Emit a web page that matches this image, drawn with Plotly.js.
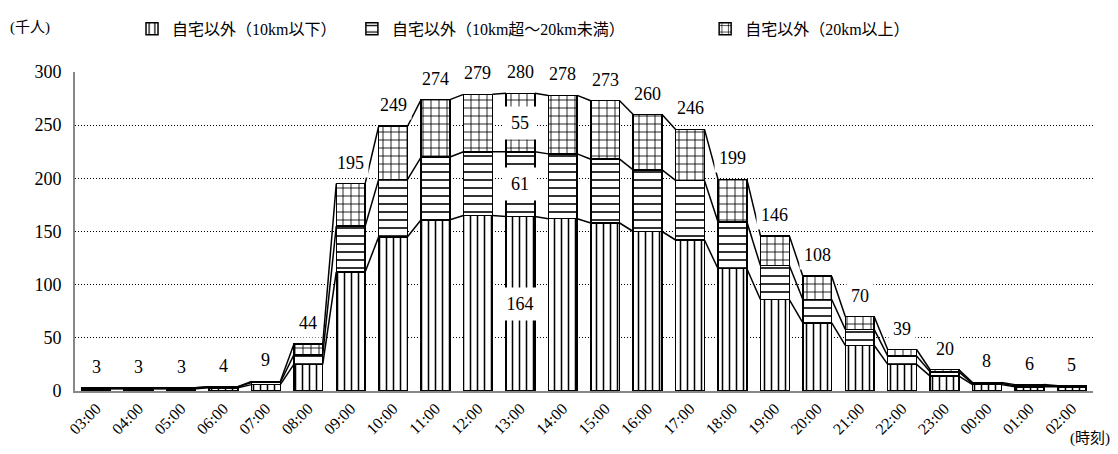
<!DOCTYPE html>
<html>
<head>
<meta charset="utf-8">
<script src="https://cdn.plot.ly/plotly-3.0.1.min.js"></script>
<style>html,body{margin:0;padding:0;background:#fff;}#chart{width:1118px;height:454px;}</style>
</head>
<body>
<div id="chart"></div>
<script>
// ---- data ----
var hours = ["03:00","04:00","05:00","06:00","07:00","08:00","09:00","10:00","11:00","12:00","13:00","14:00",
             "15:00","16:00","17:00","18:00","19:00","20:00","21:00","22:00","23:00","00:00","01:00","02:00"];
var seriesNames = ["自宅以外（10km以下）","自宅以外（10km超～20km未満）","自宅以外（20km以上）"];
var near   = [2,2,2,3,6,25,112,145,161,165,164,162,158,150,142,115,86,64,43,25,14,6,4,4];
var middle = [1,1,1,1,2,9,43,54,59,60,61,61,60,58,56,44,32,22,15,8,4,1,1,1];
var far    = [0,0,0,0,1,10,40,50,54,54,55,55,55,52,48,40,28,22,12,6,2,1,1,0];
var totals = [3,3,3,4,9,44,195,249,274,279,280,278,273,260,246,199,146,108,70,39,20,8,6,5];
var detailHour = "13:00"; // hour whose segments carry value labels

// ---- build ----
var SERIF = "'Liberation Serif', 'Times New Roman', 'Noto Sans CJK JP', serif";
var idx = hours.map(function(_, i){ return i; });
var W = 0.68;
var patterns = [
  {shape:"|", size:7, solidity:0.22},
  {shape:"-", size:8, solidity:0.2},
  {shape:"+", size:8, solidity:0.2}
];
var legendIds = ["legend", "legend2", "legend3"];
var legendX = [0.056, 0.272, 0.619];
var seriesVals = [near, middle, far];
var traces = [];
seriesVals.forEach(function(vals, k){
  traces.push({
    type:"bar", x: idx, y: vals, name: seriesNames[k], width: W, legend: legendIds[k],
    marker:{color:"#ffffff", line:{color:"#000", width:1.5},
      pattern:{shape:patterns[k].shape, size:patterns[k].size, solidity:patterns[k].solidity,
               fgcolor:"#000", bgcolor:"#fff", fillmode:"replace"}},
    hoverinfo:"skip"
  });
});
// cumulative levels and connecting series lines
var cum = [];
var run = hours.map(function(){ return 0; });
seriesVals.forEach(function(vals){
  run = run.map(function(r, i){ return r + vals[i]; });
  cum.push(run.slice());
});
cum.forEach(function(level){
  var xs = [], ys = [];
  for (var i = 0; i < hours.length - 1; i++) {
    xs.push(i + W/2, i + 1 - W/2, null);
    ys.push(level[i], level[i+1], null);
  }
  traces.push({type:"scatter", mode:"lines", x:xs, y:ys, line:{color:"#000", width:1.5},
               showlegend:false, hoverinfo:"skip", cliponaxis:false});
});

var annotations = [];
totals.forEach(function(t, i){
  annotations.push({x:i, y:cum[2][i], xref:"x", yref:"y", text:String(t), showarrow:false,
    yanchor:"bottom", yshift:6, bgcolor:"#fff", borderpad:4,
    font:{family:SERIF, size:18, color:"#000"}});
});
var d = hours.indexOf(detailHour);
var base = 0;
seriesVals.forEach(function(vals){
  var v = vals[d];
  annotations.push({x:d, y:base + v/2, xref:"x", yref:"y", text:String(v), showarrow:false,
    width:30, height:30, borderpad:1, bgcolor:"#fff",
    font:{family:SERIF, size:18, color:"#000"}});
  base += v;
});
annotations.push({xref:"paper", yref:"paper", x:-0.066, y:1.14, xanchor:"left", yanchor:"middle",
  text:"(千人)", showarrow:false, font:{family:SERIF, size:15, color:"#000"}});
annotations.push({xref:"paper", yref:"paper", x:0.975, y:-0.15, xanchor:"left", yanchor:"middle",
  text:"(時刻)", showarrow:false, font:{family:SERIF, size:15, color:"#000"}});

var layout = {
  width:1118, height:454,
  margin:{l:75, r:25, t:64, b:63},
  paper_bgcolor:"#fff", plot_bgcolor:"#fff",
  barmode:"stack",
  showlegend:true,
  xaxis:{range:[-0.5, hours.length - 0.5], tickmode:"array", tickvals:idx, ticktext:hours,
         tickangle:-45, showgrid:false, zeroline:false, showline:true, linecolor:"#888", linewidth:2,
         ticks:"", tickfont:{family:SERIF, size:16, color:"#000"}},
  yaxis:{range:[0,300], dtick:50, tick0:0, showgrid:true, gridcolor:"#000", gridwidth:1, griddash:"1px,2px",
         zeroline:false, showline:true, linecolor:"#888", linewidth:2, ticks:"", ticklabelstandoff:8,
         tickfont:{family:SERIF, size:18, color:"#000"}},
  annotations: annotations
};
legendIds.forEach(function(id, k){
  layout[id] = {orientation:"h", x:legendX[k], y:1.135, xanchor:"left", yanchor:"middle",
    font:{family:SERIF, size:16, color:"#000"}, itemwidth:30, bgcolor:"rgba(0,0,0,0)"};
});
Plotly.newPlot("chart", traces, layout, {staticPlot:true, displayModeBar:false});
</script>
</body>
</html>
